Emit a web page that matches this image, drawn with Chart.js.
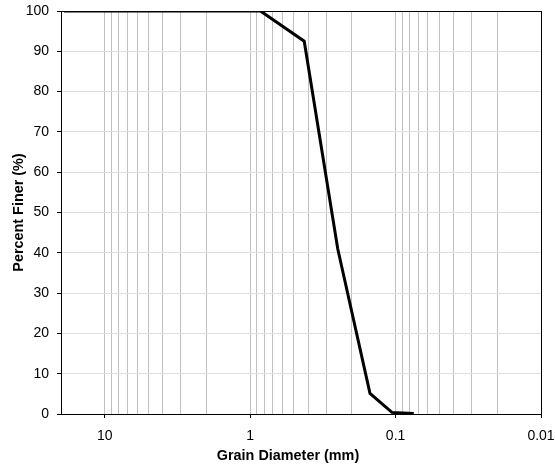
<!DOCTYPE html>
<html><head><meta charset="utf-8">
<script src="https://cdn.jsdelivr.net/npm/chart.js@4/dist/chart.umd.min.js"></script>
<style>html,body{margin:0;padding:0;background:#fff}#wrap{width:555px;height:465px}</style>
</head><body><div id="wrap"><canvas id="c" width="555" height="465"></canvas></div>
<script>
// Data (grain-size distribution)
const grainDiameterMm = [19.05, 9.5, 4.75, 2.0, 0.85, 0.425, 0.25, 0.15, 0.106, 0.075];
const percentFiner    = [100,   100, 100,  100, 100,  92.5,  41,   5.1,  0.4,   0.1];
const xTickValues = [10, 1, 0.1, 0.01];
const xTickLabels = ['10', '1', '0.1', '0.01'];
const xAxisMin = 0.01, xAxisMax = 20;
const yTickStep = 10, yAxisMin = 0, yAxisMax = 100;
const xTitle = 'Grain Diameter (mm)';
const yTitle = 'Percent Finer (%)';

const FONT = '"Liberation Sans", Arial, sans-serif';

// log grid lines: 1..9 x 10^n inside the axis range
function logGridValues(min, max) {
  const out = [];
  for (let e = Math.floor(Math.log10(min)); e <= Math.ceil(Math.log10(max)); e++) {
    for (let m = 1; m <= 9; m++) {
      const v = +(m * Math.pow(10, e)).toPrecision(6);
      if (v >= min - 1e-12 && v <= max + 1e-12) out.push(v);
    }
  }
  return out;
}
function majorLabel(v) {
  for (let i = 0; i < xTickValues.length; i++) {
    if (Math.abs(v - xTickValues[i]) < 1e-9 * Math.max(1, xTickValues[i])) return xTickLabels[i];
  }
  return null;
}

const points = grainDiameterMm.map((d, i) => ({x: d, y: percentFiner[i]}));

const frame = {
  id: 'frame',
  afterDatasetsDraw(chart) {
    const {ctx, chartArea: a} = chart;
    ctx.save();
    ctx.strokeStyle = '#000';
    ctx.lineWidth = 1;
    ctx.strokeRect(Math.round(a.left) + 0.5, Math.round(a.top) + 0.5,
                   Math.round(a.right) - Math.round(a.left), Math.round(a.bottom) - Math.round(a.top));
    ctx.restore();
  },
  afterDraw(chart) {
    const {ctx} = chart;
    ctx.save();
    ctx.fillStyle = '#000';
    ctx.font = 'bold 14.4px ' + FONT;
    ctx.textAlign = 'center';
    ctx.textBaseline = 'middle';
    ctx.fillText(xTitle, 288, 456);
    ctx.restore();
  }
};

new Chart(document.getElementById('c'), {
  type: 'line',
  data: {
    datasets: [{
      data: points,
      borderColor: '#000',
      borderWidth: 3,
      pointRadius: 0,
      tension: 0,
      fill: false
    }]
  },
  options: {
    responsive: false,
    devicePixelRatio: 1,
    animation: false,
    events: [],
    layout: {padding: {left: 0, top: 11, right: 14, bottom: 0}},
    plugins: {legend: {display: false}, tooltip: {enabled: false}},
    scales: {
      x: {
        type: 'logarithmic',
        position: 'bottom',
        reverse: true,
        min: xAxisMin,
        max: xAxisMax,
        afterBuildTicks(scale) {
          scale.ticks = logGridValues(xAxisMin, xAxisMax).map(v => ({value: v}));
        },
        afterFit(scale) {
          scale.height = 51;
          scale.paddingLeft = 0; scale.paddingRight = 0;
        },
        border: {display: true, color: '#000', width: 1},
        grid: {
          color: '#c0c0c0',
          lineWidth: 1,
          drawTicks: true,
          tickLength: 4,
          tickColor: ctx => (ctx.tick && majorLabel(ctx.tick.value) !== null) ? '#000' : 'rgba(0,0,0,0)'
        },
        ticks: {
          autoSkip: false,
          maxRotation: 0,
          minRotation: 0,
          padding: 10,
          color: '#000',
          font: {family: FONT, size: 14},
          callback: (v) => { const l = majorLabel(v); return l === null ? '' : l; }
        },
        title: {display: false}
      },
      y: {
        type: 'linear',
        min: yAxisMin,
        max: yAxisMax,
        afterFit(scale) {
          scale.width = 61;
          scale.paddingTop = 0; scale.paddingBottom = 0;
        },
        border: {display: true, color: '#000', width: 1},
        grid: {color: '#dedede', lineWidth: 1, tickLength: 4, tickColor: '#000'},
        ticks: {
          stepSize: yTickStep,
          padding: 8,
          color: '#000',
          font: {family: FONT, size: 14}
        },
        title: {
          display: true,
          text: yTitle,
          color: '#000',
          font: {family: FONT, size: 14.4, weight: 'bold'},
          padding: {top: 10, bottom: 0}
        }
      }
    }
  },
  plugins: [frame]
});
</script>
</body></html>
